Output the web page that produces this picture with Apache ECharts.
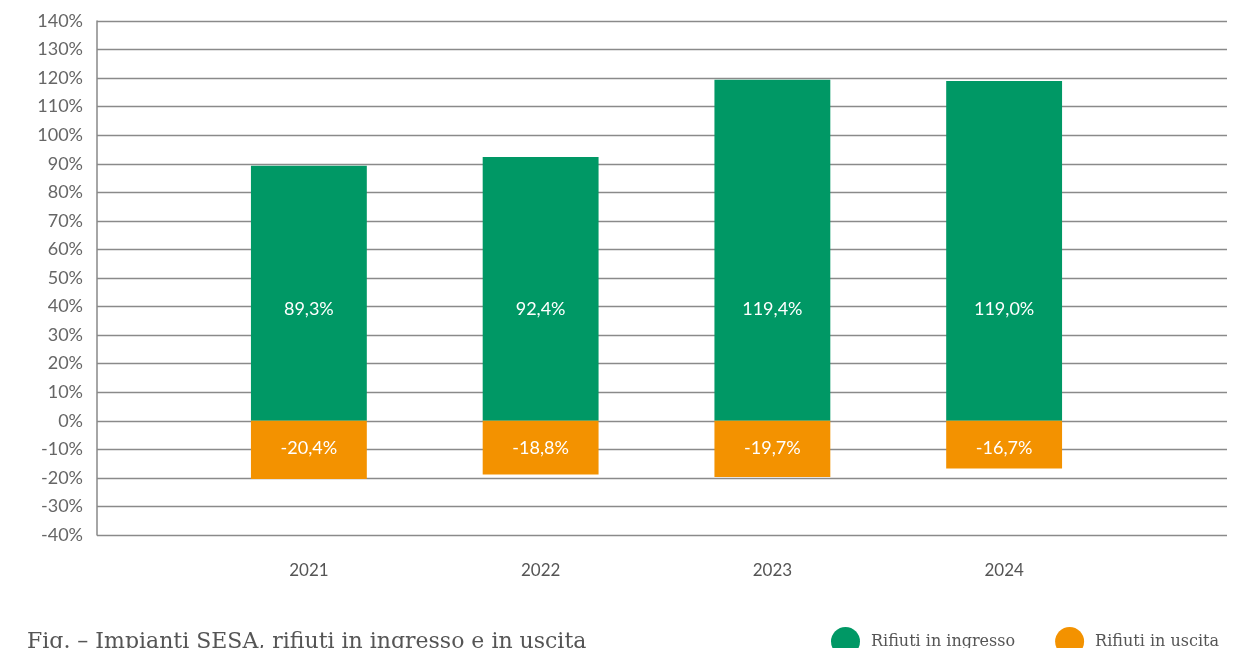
<!DOCTYPE html>
<html>
<head>
<meta charset="utf-8">
<title>Impianti SESA, rifiuti in ingresso e in uscita</title>
<script src="https://cdn.jsdelivr.net/npm/echarts@6/dist/echarts.min.js"></script>
<style>
  html, body { margin: 0; padding: 0; background: #fff; }
  #chart { width: 1233px; height: 648px; }
</style>
</head>
<body>
<div id="chart"></div>
<script>
// dati
const anni = ['2021', '2022', '2023', '2024']
const ingresso = [89.3, 92.4, 119.4, 119.0]
const uscita = [-20.4, -18.8, -19.7, -16.7]
const yTicks = [-40, -30, -20, -10, 0, 10, 20, 30, 40, 50, 60, 70, 80, 90, 100, 110, 120, 130, 140]

const verde = '#009865'
const arancio = '#f39200'
const fmt = v => v.toFixed(1).replace('.', ',') + '%'

const chart = echarts.init(document.getElementById('chart'))

const option = {
  animation: false,
  textStyle: { fontFamily: 'Lato, sans-serif' },
  title: {
    text: 'Fig. – Impianti SESA, rifiuti in ingresso e in uscita',
    left: 22,
    top: 626,
    textStyle: { fontFamily: 'DejaVu Serif', fontWeight: 'normal', fontSize: 22, color: '#555' }
  },
  legend: {
    data: ['Rifiuti in ingresso', 'Rifiuti in uscita'],
    left: 826,
    top: 622,
    icon: 'circle',
    itemWidth: 29,
    itemHeight: 29,
    itemGap: 40,
    textStyle: { fontFamily: 'DejaVu Serif', fontSize: 16, color: '#555', padding: [0, 0, 0, 6] }
  },
  grid: [
    // griglia delle barre
    { left: 193, right: 113, top: 21, bottom: 113 },
    // griglia per assi e linee
    { left: 97, right: 6, top: 21, bottom: 113 }
  ],
  xAxis: [
    {
      type: 'category',
      gridIndex: 0,
      data: anni,
      axisLine: { show: false },
      axisTick: { show: false },
      axisLabel: { color: '#555', fontSize: 17, margin: 27 }
    },
    {
      type: 'category',
      gridIndex: 1,
      data: anni,
      show: false
    }
  ],
  yAxis: [
    {
      type: 'value',
      gridIndex: 0,
      min: -40,
      max: 140,
      interval: 10,
      show: false
    },
    {
      type: 'value',
      gridIndex: 1,
      min: yTicks[0],
      max: yTicks[yTicks.length - 1],
      interval: 10,
      axisLine: { show: true, lineStyle: { color: '#888', width: 1.5 } },
      axisTick: { show: false },
      axisLabel: { color: '#666', fontSize: 18, margin: 14, formatter: '{value}%' },
      splitLine: { show: true, lineStyle: { color: '#8a8a8a', width: 1.3 } }
    }
  ],
  series: [
    {
      name: 'Rifiuti in ingresso',
      type: 'bar',
      stack: 'tot',
      xAxisIndex: 0,
      yAxisIndex: 0,
      barWidth: '50%',
      data: ingresso,
      itemStyle: { color: verde },
      label: {
        show: true,
        position: 'insideBottom',
        distance: 103,
        color: '#fff',
        fontSize: 18,
        formatter: p => fmt(p.value)
      },
      z: 3
    },
    {
      name: 'Rifiuti in uscita',
      type: 'bar',
      stack: 'tot',
      xAxisIndex: 0,
      yAxisIndex: 0,
      barWidth: '50%',
      data: uscita,
      itemStyle: { color: arancio },
      label: {
        show: true,
        position: 'insideTop',
        distance: 18,
        color: '#fff',
        fontSize: 18,
        formatter: p => fmt(p.value)
      },
      z: 3
    }
  ]
}

chart.setOption(option)
</script>
</body>
</html>
